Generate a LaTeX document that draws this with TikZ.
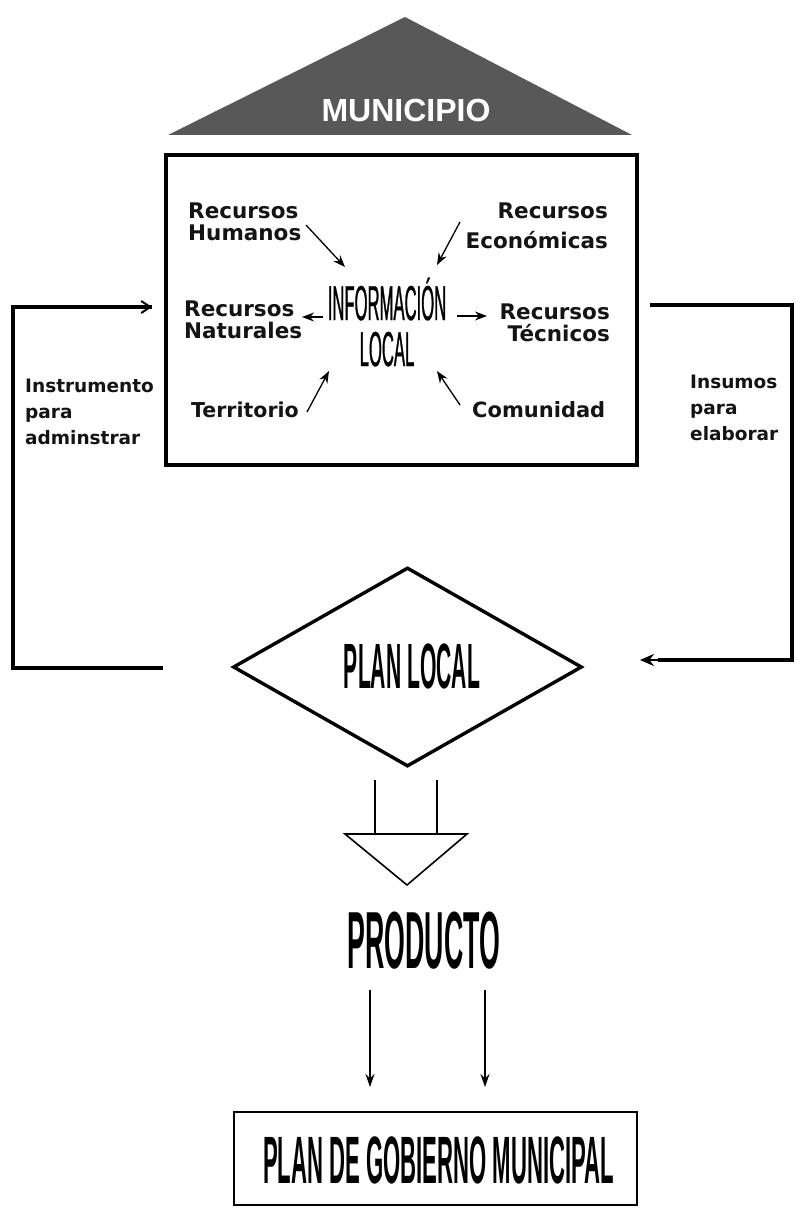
\documentclass[tikz,border=0pt]{standalone}
\usepackage{fontspec}
\usetikzlibrary{arrows.meta,shapes.geometric}
\newfontfamily\labfont{DejaVu Sans}
\newfontfamily\condfont[FakeStretch=0.34,FakeBold=0.6]{Liberation Sans}
\newfontfamily\condbfont[FakeStretch=0.33]{Liberation Sans Bold}
\newfontfamily\headfont{Liberation Sans Bold}
\definecolor{roofgray}{HTML}{585858}
\definecolor{ink}{HTML}{141414}
\tikzset{
  lab/.style={inner sep=0pt, text=ink, font=\labfont\bfseries\fontsize{21.5}{22}\selectfont},
  outlab/.style={inner sep=0pt, align=left, text=ink, font=\labfont\bfseries\fontsize{18.5}{26}\selectfont},
  smallarrow/.style={line width=1.3pt, -{Stealth[length=12pt,width=9pt]}},
  loopline/.style={line width=3.5pt},
  thinline/.style={line width=1.6pt}
}
\begin{document}
\begin{tikzpicture}[x=1pt,y=-1pt]
\useasboundingbox[fill=white] (0,0) rectangle (795,1209);

% roof
\coordinate (roofL) at (168,135);
\coordinate (roofT) at (405,17);
\coordinate (roofR) at (632,135);
\fill[roofgray] (roofL) -- (roofT) -- (roofR) -- cycle;
\node[inner sep=0pt, text=white, font=\headfont\fontsize{32}{36}\selectfont] (municipio) at (406,110) {MUNICIPIO};

% main box
\node[draw, line width=3.8pt, minimum width=471pt, minimum height=310pt, inner sep=0pt] (box) at (401.5,310) {};

% central text
\node[inner sep=0pt, align=center, font=\condfont\fontsize{49}{46}\selectfont] (info) at (387,322) {INFORMACIÓN\\LOCAL};

% resources
\node[lab, anchor=west, align=left] (humanos) at (188,222) {Recursos\\Humanos};
\node[lab, anchor=east, align=right, font=\labfont\bfseries\fontsize{21.5}{30}\selectfont] (economicas) at (608,226) {Recursos\\Económicas};
\node[lab, anchor=west, align=left] (naturales) at (184,320) {Recursos\\Naturales};
\node[lab, anchor=east, align=right] (tecnicos) at (610,323) {Recursos\\Técnicos};
\node[lab, anchor=west, font=\labfont\bfseries\fontsize{20.5}{22}\selectfont] (territorio) at (191,410) {Territorio};
\node[lab, anchor=west, font=\labfont\bfseries\fontsize{21}{22}\selectfont] (comunidad) at (472,410) {Comunidad};

% small arrows
\coordinate (hA) at (306,225); \coordinate (hB) at (345,267);
\coordinate (eA) at (460,222); \coordinate (eB) at (437,265);
\coordinate (nA) at (323,317); \coordinate (nB) at (302,317);
\coordinate (tA) at (457,316); \coordinate (tB) at (487,316);
\coordinate (rA) at (307,412); \coordinate (rB) at (329,371);
\coordinate (cA) at (460,405); \coordinate (cB) at (437,371);
\draw[smallarrow] (hA) -- (hB);
\draw[smallarrow] (eA) -- (eB);
\draw[smallarrow] (nA) -- (nB);
\draw[smallarrow] (tA) -- (tB);
\draw[smallarrow] (rA) -- (rB);
\draw[smallarrow] (cA) -- (cB);

% plan local
\node[diamond, draw, line width=3.4pt, minimum width=349pt, minimum height=199pt, inner sep=0pt] (plan) at (407.5,667) {};
\node[inner sep=0pt, font=\condbfont\fontsize{64}{64}\selectfont] (plantext) at (412,666) {PLAN LOCAL};

% left loop
\coordinate (lS) at (163,668);
\coordinate (lC1) at (13,668);
\coordinate (lC2) at (13,307);
\coordinate (lE) at (152,307);
\draw[loopline, line join=miter] (lS) -- (lC1) -- (lC2) -- (lE);
\draw[line width=2pt, -{Straight Barb[length=9pt,width=12pt]}] (130,307) -- (lE);
\node[outlab, anchor=west] (instrumento) at (25,412) {Instrumento\\para\\adminstrar};

% right loop
\coordinate (rS) at (650,305);
\coordinate (rC1) at (792,305);
\coordinate (rC2) at (792,660);
\coordinate (rE) at (640,660);
\draw[loopline, line join=miter] (rS) -- (rC1) -- (rC2) -- (658,660);
\draw[line width=2.5pt, -{Stealth[length=14pt,width=12pt]}] (670,660) -- (rE);
\node[outlab, anchor=west] (insumos) at (690,408) {Insumos\\para\\elaborar};

% funnel
\coordinate (v1t) at (375,780); \coordinate (v1b) at (375,834);
\coordinate (v2t) at (437,780); \coordinate (v2b) at (437,834);
\draw[thinline] (v1t) -- (v1b);
\draw[thinline] (v2t) -- (v2b);
\coordinate (fL) at (345,834);
\coordinate (fR) at (467,834);
\coordinate (fB) at (407,885);
\draw[thinline, fill=white, line join=miter] (fL) -- (fR) -- (fB) -- cycle;

% producto
\node[inner sep=0pt, font=\condbfont\fontsize{81}{81}\selectfont] (producto) at (424,941) {PRODUCTO};

% bottom box
\node[draw, line width=1.8pt, minimum width=403pt, minimum height=93pt, inner sep=0pt] (gobierno) at (435.5,1158.5) {};
\node[inner sep=0pt, font=\condbfont\fontsize{67}{67}\selectfont] (gobtext) at (438.5,1160) {PLAN DE GOBIERNO MUNICIPAL};

\coordinate (pA1) at (370,990); \coordinate (pB1) at (370,1087);
\coordinate (pA2) at (485,990); \coordinate (pB2) at (485,1087);
\draw[line width=1.3pt, -{Stealth[length=13pt,width=9pt]}] (pA1) -- (pB1);
\draw[line width=1.3pt, -{Stealth[length=13pt,width=9pt]}] (pA2) -- (pB2);
\end{tikzpicture}
\end{document}
